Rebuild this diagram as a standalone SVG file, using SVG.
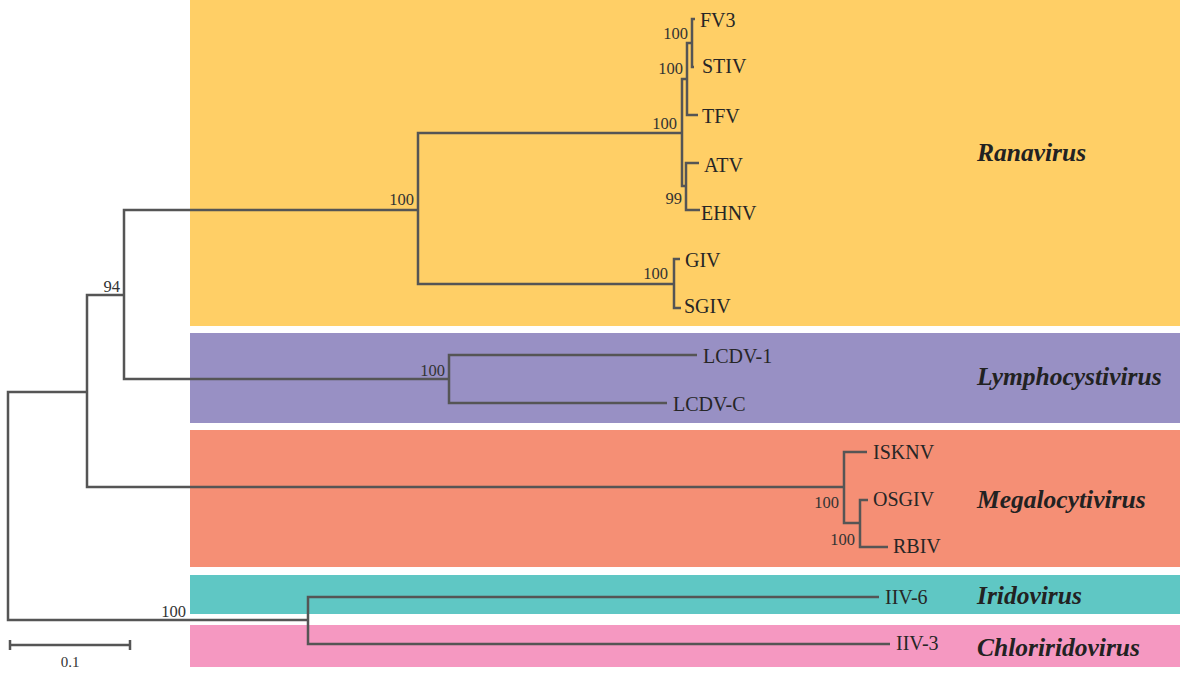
<svg xmlns="http://www.w3.org/2000/svg" width="1181" height="675" viewBox="0 0 1181 675">
<style>
.br{fill:none;stroke:#555555;stroke-width:2.5;stroke-linejoin:miter;stroke-linecap:butt}
.tip{font-family:"Liberation Serif",serif;font-size:20px;fill:#262626}
.bs{font-family:"Liberation Serif",serif;font-size:16.5px;fill:#333333;text-anchor:end}
.genus{font-family:"Liberation Serif",serif;font-size:25.5px;font-weight:bold;font-style:italic;fill:#222222}
</style>
<rect x="0" y="0" width="1181" height="675" fill="#ffffff"/>
<g id="clade-ranavirus"><rect x="190" y="0" width="990" height="326" fill="#FFCF66"/><text class="genus" x="977" y="161">Ranavirus</text></g>
<g id="clade-lymphocystivirus"><rect x="190" y="333" width="990" height="90" fill="#9890C4"/><text class="genus" x="977" y="385">Lymphocystivirus</text></g>
<g id="clade-megalocytivirus"><rect x="190" y="430" width="990" height="137" fill="#F58F75"/><text class="genus" x="977" y="508">Megalocytivirus</text></g>
<g id="clade-iridovirus"><rect x="190" y="575" width="990" height="39" fill="#5FC7C4"/><text class="genus" x="977" y="604">Iridovirus</text></g>
<g id="clade-chloriridovirus"><rect x="190" y="625" width="990" height="42" fill="#F598C1"/><text class="genus" x="977" y="656">Chloriridovirus</text></g>
<g id="connectors">
<path class="br" d="M87,392 H8 V620 H308"/>
<path class="br" d="M124,295 H87 V487 H844"/>
<path class="br" d="M418,210 H124 V379 H449"/>
<path class="br" d="M682,133 H418 V284 H674"/>
<path class="br" d="M687,79 H682 V186 H686"/>
<path class="br" d="M692,43 H687 V115 H698"/>
<path class="br" d="M695,19 H692 V67 H694"/>
<path class="br" d="M699,163 H686 V210 H700"/>
<path class="br" d="M680,259 H674 V308 H681"/>
<path class="br" d="M697,355 H449 V403 H667"/>
<path class="br" d="M867,452 H844 V523 H860"/>
<path class="br" d="M868,500 H860 V547 H888"/>
<path class="br" d="M879,597 H308 V644 H890"/>
</g>
<g id="bootstrap">
<text class="bs" x="688" y="39">100</text>
<text class="bs" x="683" y="74">100</text>
<text class="bs" x="677" y="129">100</text>
<text class="bs" x="682" y="204">99</text>
<text class="bs" x="414" y="205">100</text>
<text class="bs" x="668" y="279">100</text>
<text class="bs" x="120" y="292">94</text>
<text class="bs" x="445" y="376">100</text>
<text class="bs" x="839" y="508">100</text>
<text class="bs" x="855" y="545">100</text>
<text class="bs" x="186" y="617">100</text>
</g>
<g id="tip-FV3"><text class="tip" x="700" y="27">FV3</text></g>
<g id="tip-STIV"><text class="tip" x="702" y="73">STIV</text></g>
<g id="tip-TFV"><text class="tip" x="702" y="123">TFV</text></g>
<g id="tip-ATV"><text class="tip" x="704" y="172">ATV</text></g>
<g id="tip-EHNV"><text class="tip" x="701" y="220">EHNV</text></g>
<g id="tip-GIV"><text class="tip" x="685" y="267">GIV</text></g>
<g id="tip-SGIV"><text class="tip" x="684" y="313">SGIV</text></g>
<g id="tip-LCDV-1"><text class="tip" x="703" y="363">LCDV-1</text></g>
<g id="tip-LCDV-C"><text class="tip" x="673" y="411">LCDV-C</text></g>
<g id="tip-ISKNV"><text class="tip" x="873" y="459">ISKNV</text></g>
<g id="tip-OSGIV"><text class="tip" x="873" y="506">OSGIV</text></g>
<g id="tip-RBIV"><text class="tip" x="893" y="553">RBIV</text></g>
<g id="tip-IIV-6"><text class="tip" x="885" y="604">IIV-6</text></g>
<g id="tip-IIV-3"><text class="tip" x="896" y="650">IIV-3</text></g>
<g id="scale-bar">
<path class="br" d="M10,645 H130 M10,640 V650 M130,640 V650"/>
<text x="70" y="667" font-family="Liberation Serif, serif" font-size="15" fill="#333333" text-anchor="middle">0.1</text>
</g>
</svg>
